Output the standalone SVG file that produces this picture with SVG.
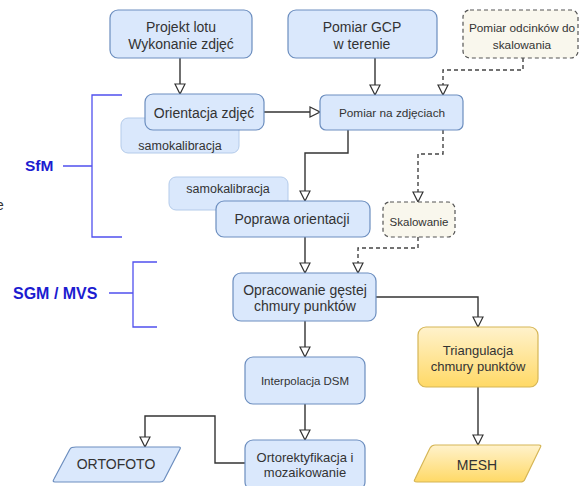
<svg xmlns="http://www.w3.org/2000/svg" width="580" height="486" viewBox="0 0 580 486">
<style>
.n{fill:#dae8fc;stroke:#6c8ebf;stroke-width:1.2}
.s{fill:#dae8fc;stroke:#b4cbea;stroke-width:1}
.d{fill:#f9f7ed;stroke:#555;stroke-width:1.2;stroke-dasharray:4,3}
.y{fill:url(#yg);stroke:#d6b656;stroke-width:1.2}
.t{font-family:"Liberation Sans",Arial,sans-serif;fill:#333;text-anchor:middle}
.c{fill:none;stroke:#333;stroke-width:1.4}
.cd{fill:none;stroke:#444;stroke-width:1.4;stroke-dasharray:4,3}
.b{fill:none;stroke:#5050ee;stroke-width:1.3}
.l{font-family:"Liberation Sans",Arial,sans-serif;font-weight:bold;fill:#1c1cd0}
</style>
<defs>
<linearGradient id="yg" x1="0" y1="0" x2="0" y2="1"><stop offset="0" stop-color="#fff2cc"/><stop offset="1" stop-color="#ffd966"/></linearGradient>
<marker id="a" markerUnits="userSpaceOnUse" viewBox="0 0 12 12" markerWidth="12" markerHeight="12" refX="11" refY="6" orient="auto"><path d="M1,1 L11,6 L1,11 z" fill="#fff" stroke="#333" stroke-width="1.2"/></marker>
</defs>
<rect width="580" height="486" fill="#fff"/>
<g id="brackets">
<path class="b" d="M122,95 H92 V237 H122 M63,166 H92"/>
<path class="b" d="M157,262 H133 V327 H157 M109,293 H133"/>
<text class="l" x="25" y="171" font-size="15.5">SfM</text>
<text class="l" x="13" y="299" font-size="16">SGM / MVS</text>
<text x="-4" y="210" font-family="Liberation Sans,Arial,sans-serif" font-size="14" fill="#333">e</text>
</g>
<g id="connectors">
<path class="c" d="M180,58 V94" marker-end="url(#a)"/>
<path class="c" d="M375,58 V95" marker-end="url(#a)"/>
<path class="cd" d="M523,58 V70 H443 V95" marker-end="url(#a)"/>
<path class="c" d="M264,112 H320" marker-end="url(#a)"/>
<path class="c" d="M348,130 V153 H305 V201" marker-end="url(#a)"/>
<path class="cd" d="M443,130 V154 H418 V202" marker-end="url(#a)"/>
<path class="c" d="M305,237 V273" marker-end="url(#a)"/>
<path class="cd" d="M418,237 V248 H358 V273" marker-end="url(#a)"/>
<path class="c" d="M376,297 H478 V327" marker-end="url(#a)"/>
<path class="c" d="M305,321 V357" marker-end="url(#a)"/>
<path class="c" d="M305,404 V440" marker-end="url(#a)"/>
<path class="c" d="M478,387 V445" marker-end="url(#a)"/>
<path class="c" d="M245,463 H215 V416 H145 V447" marker-end="url(#a)"/>
</g>
<g id="projekt"><rect class="n" x="110" y="10" width="142" height="48" rx="8"/><text class="t" x="181" y="32" font-size="14">Projekt lotu</text><text class="t" x="181" y="49" font-size="14">Wykonanie zdjęć</text></g>
<g id="gcp"><rect class="n" x="288" y="10" width="149" height="48" rx="8"/><text class="t" x="362" y="32" font-size="14">Pomiar GCP</text><text class="t" x="362" y="49" font-size="14">w terenie</text></g>
<g id="odcinki"><rect class="d" x="463" y="10" width="115" height="48" rx="7"/><text class="t" x="522" y="32" font-size="11.8">Pomiar odcinków do</text><text class="t" x="522" y="49" font-size="11.8">skalowania</text></g>
<g id="samokal1"><rect class="s" x="121" y="118" width="118" height="35" rx="7"/><text class="t" x="180" y="150" font-size="12.5">samokalibracja</text></g>
<g id="orientacja"><rect class="n" x="145" y="94" width="119" height="36" rx="8"/><text class="t" x="204" y="118" font-size="14">Orientacja zdjęć</text></g>
<g id="pomiarzdj"><rect class="n" x="320" y="95" width="143" height="35" rx="6"/><text class="t" x="392" y="117" font-size="11.8">Pomiar na zdjęciach</text></g>
<g id="samokal2"><rect class="s" x="169" y="177" width="119" height="33" rx="7"/><text class="t" x="228" y="193" font-size="12.5">samokalibracja</text></g>
<g id="poprawa"><rect class="n" x="216" y="201" width="154" height="36" rx="8"/><text class="t" x="292" y="224" font-size="14">Poprawa orientacji</text></g>
<g id="skalowanie"><rect class="d" x="383" y="202" width="72" height="35" rx="7"/><text class="t" x="419" y="226" font-size="11.5">Skalowanie</text></g>
<g id="opracowanie"><rect class="n" x="233" y="273" width="143" height="48" rx="8"/><text class="t" x="305" y="295" font-size="14">Opracowanie gęstej</text><text class="t" x="305" y="311" font-size="14">chmury punktów</text></g>
<g id="triangulacja"><rect class="y" x="418" y="327" width="120" height="60" rx="8"/><text class="t" x="478" y="355" font-size="13">Triangulacja</text><text class="t" x="478" y="371" font-size="13">chmury punktów</text></g>
<g id="interpolacja"><rect class="n" x="245" y="357" width="120" height="47" rx="8"/><text class="t" x="305" y="385" font-size="11.5">Interpolacja DSM</text></g>
<g id="ortorekt"><rect class="n" x="245" y="440" width="120" height="50" rx="8"/><text class="t" x="305" y="462" font-size="13">Ortorektyfikacja i</text><text class="t" x="305" y="477" font-size="13">mozaikowanie</text></g>
<g id="ortofoto"><path class="n" d="M76,447 H179 Q181,447 180,449 L164,480 Q163,482 160,482 H55 Q52,482 54,479 L70,449 Q71,447 76,447 Z"/><text class="t" x="116" y="469" font-size="14">ORTOFOTO</text></g>
<g id="mesh"><path class="y" d="M435,445 H539 Q542,445 540,448 L525,479 Q524,482 520,482 H417 Q413,482 415,479 L430,448 Q432,445 435,445 Z"/><text class="t" x="477" y="470" font-size="14">MESH</text></g>
</svg>
